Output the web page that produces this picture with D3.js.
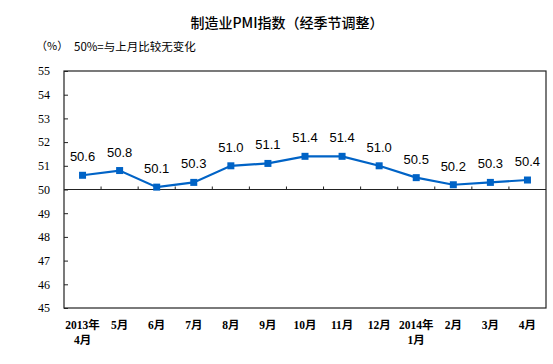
<!DOCTYPE html>
<html><head><meta charset="utf-8">
<script src="https://cdn.jsdelivr.net/npm/d3@7"></script>
<style>body{margin:0;background:#fff}svg{display:block}</style>
</head><body>
<svg id="c" width="553" height="364"></svg>
<script>
const categories = ["2013年|4月","5月","6月","7月","8月","9月","10月","11月","12月","2014年|1月","2月","3月","4月"];
const values = [50.6,50.8,50.1,50.3,51.0,51.1,51.4,51.4,51.0,50.5,50.2,50.3,50.4];
const yTicks = [45,46,47,48,49,50,51,52,53,54,55];
const title = "制造业PMI指数（经季节调整）";
const unitLabel = "（%）";
const note = "50%=与上月比较无变化";

const svg = d3.select("#c");
const L = 64, R = 546, T = 71, B = 308;
const x = d3.scaleBand().domain(categories).range([L, R]);
const y = d3.scaleLinear().domain([45, 55]).range([B, T]);
const color = "#0063C6";

svg.append("text").attr("x", 287).attr("y", 28).attr("text-anchor", "middle")
  .attr("font-family", "'Noto Sans CJK SC', sans-serif").attr("font-size", 14).attr("font-weight", 500)
  .text(title);
svg.append("text").attr("x", 36).attr("y", 50)
  .attr("font-family", "'Noto Sans CJK SC', sans-serif").attr("font-size", 11).text(unitLabel);
svg.append("text").attr("x", 74).attr("y", 51)
  .attr("font-family", "'Noto Sans CJK SC', sans-serif").attr("font-size", 11.5).text(note);

// frame
svg.append("rect").attr("x", L).attr("y", T).attr("width", R - L).attr("height", B - T)
  .attr("fill", "none").attr("stroke", "#222").attr("stroke-width", 1.2);

// y axis
const yAxis = d3.axisLeft(y).tickValues(yTicks).tickSize(-4).tickPadding(10).tickFormat(d3.format("d"));
const ga = svg.append("g").attr("transform", `translate(${L},0)`).call(yAxis);
ga.select(".domain").remove();
ga.selectAll("line").attr("stroke", "#222");
ga.selectAll("text").attr("font-family", "'Liberation Serif', serif").attr("font-size", 12)
  .attr("fill", "#000").attr("dx", 0).attr("x", -14);

// 50 baseline with ticks between bands
const y50 = y(50);
svg.append("line").attr("x1", L).attr("x2", R).attr("y1", y50).attr("y2", y50)
  .attr("stroke", "#222").attr("stroke-width", 1.2);
svg.append("g").selectAll("line").data(categories.slice(1)).join("line")
  .attr("x1", d => x(d)).attr("x2", d => x(d)).attr("y1", y50).attr("y2", y50 - 3)
  .attr("stroke", "#222");

// x labels
const xl = svg.append("g").selectAll("text").data(categories).join("text")
  .attr("x", d => x(d) + x.bandwidth() / 2).attr("y", 329).attr("text-anchor", "middle")
  .attr("font-family", "'Liberation Serif', 'Noto Sans CJK SC', serif").attr("font-size", 11.5)
  .attr("font-weight", "bold");
xl.each(function(d) {
  const parts = d.split("|");
  const t = d3.select(this);
  parts.forEach((p, i) => t.append("tspan").attr("x", x(d) + x.bandwidth() / 2).attr("dy", i ? 15 : 0).text(p));
});

// line
const line = d3.line().x((d, i) => x(categories[i]) + x.bandwidth() / 2).y(d => y(d));
svg.append("path").datum(values).attr("d", line).attr("fill", "none")
  .attr("stroke", color).attr("stroke-width", 2.2);
svg.append("g").selectAll("rect").data(values).join("rect")
  .attr("x", (d, i) => x(categories[i]) + x.bandwidth() / 2 - 3.5)
  .attr("y", d => y(d) - 3.5).attr("width", 7).attr("height", 7).attr("fill", color);
svg.append("g").selectAll("text").data(values).join("text")
  .attr("x", (d, i) => x(categories[i]) + x.bandwidth() / 2)
  .attr("y", d => y(d) - 14).attr("text-anchor", "middle")
  .attr("font-family", "'Liberation Sans', Arial, sans-serif").attr("font-size", 13)
  .text(d => d.toFixed(1));
</script>
</body></html>
